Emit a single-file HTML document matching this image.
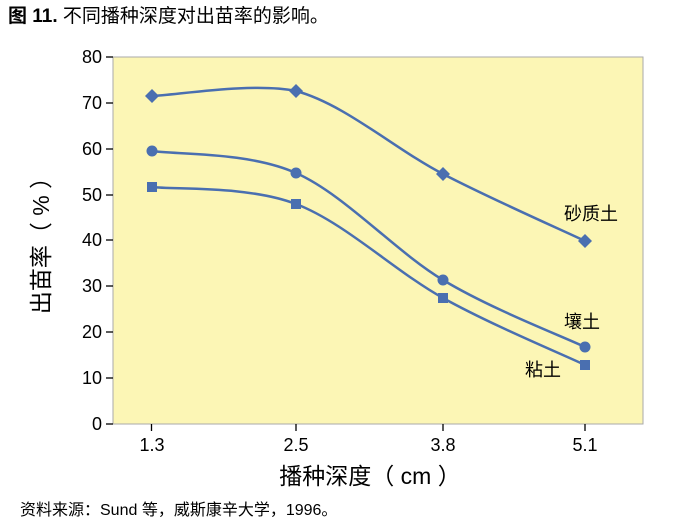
<!DOCTYPE html>
<html><head><meta charset="utf-8"><style>
body{margin:0;background:#fff;width:696px;height:525px;overflow:hidden}
svg{display:block}
text{font-family:"Liberation Sans","Noto Sans CJK SC",sans-serif;fill:#000}
</style></head><body>
<svg width="696" height="525" viewBox="0 0 696 525">
<text x="8" y="22" font-size="19" font-weight="bold">图 11.<tspan font-weight="normal"> 不同播种深度对出苗率的影响。</tspan></text>
<rect x="113" y="57" width="530" height="367" fill="#fcf6b5" stroke="#aaa" stroke-width="1"/>
<g stroke="#000" stroke-width="1.3">
<line x1="106" y1="57" x2="113" y2="57"/><line x1="106" y1="103" x2="113" y2="103"/>
<line x1="106" y1="149" x2="113" y2="149"/><line x1="106" y1="195" x2="113" y2="195"/>
<line x1="106" y1="240" x2="113" y2="240"/><line x1="106" y1="286" x2="113" y2="286"/>
<line x1="106" y1="332" x2="113" y2="332"/><line x1="106" y1="378" x2="113" y2="378"/>
<line x1="106" y1="424" x2="113" y2="424"/>
<line x1="151.5" y1="424" x2="151.5" y2="431"/><line x1="296" y1="424" x2="296" y2="431"/>
<line x1="443" y1="424" x2="443" y2="431"/><line x1="585" y1="424" x2="585" y2="431"/>
</g>
<g font-size="18" text-anchor="end">
<text x="102" y="63">80</text><text x="102" y="109">70</text><text x="102" y="155">60</text>
<text x="102" y="201">50</text><text x="102" y="246">40</text><text x="102" y="292">30</text>
<text x="102" y="338">20</text><text x="102" y="384">10</text><text x="102" y="430">0</text>
</g>
<g font-size="18" text-anchor="middle">
<text x="152" y="451">1.3</text><text x="296" y="451">2.5</text>
<text x="443" y="451">3.8</text><text x="585" y="451">5.1</text>
</g>
<g fill="none" stroke="#4a6fb0" stroke-width="2.5">
<path d="M152,96 C176,95.2 252,82 296,91 C344.5,104 394.8,149 443,174 C491.2,199 561.3,229.8 585,241"/>
<path d="M152,151 C176,154.7 247.5,151.5 296,173 C344.5,194.5 394.8,251 443,280 C491.2,309 561.3,335.8 585,347"/>
<path d="M152,187 C176,189.8 247.5,185.5 296,204 C344.5,222.5 394.8,271.2 443,298 C491.2,324.8 561.3,353.8 585,365"/>
</g>
<g fill="#4a6fb0">
<path d="M152,89 l7,7 l-7,7 l-7,-7z"/><path d="M296,84 l7,7 l-7,7 l-7,-7z"/>
<path d="M443,167 l7,7 l-7,7 l-7,-7z"/><path d="M585,234 l7,7 l-7,7 l-7,-7z"/>
<circle cx="152" cy="151" r="5.5"/><circle cx="296" cy="173" r="5.5"/>
<circle cx="443" cy="280" r="5.5"/><circle cx="585" cy="347" r="5.5"/>
<rect x="147" y="182" width="10" height="10"/><rect x="291" y="199" width="10" height="10"/>
<rect x="438" y="293" width="10" height="10"/><rect x="580" y="360" width="10" height="10"/>
</g>
<g font-size="18">
<text x="564" y="220">砂质土</text>
<text x="564" y="328">壤土</text>
<text x="525" y="376">粘土</text>
</g>
<text transform="translate(49,240) rotate(-90)" font-size="23" text-anchor="middle">出苗率（ % ）</text>
<text x="370" y="484" font-size="23" text-anchor="middle">播种深度（ cm ）</text>
<text x="20" y="515" font-size="16">资料来源：Sund 等，威斯康辛大学，1996。</text>
</svg>
</body></html>
